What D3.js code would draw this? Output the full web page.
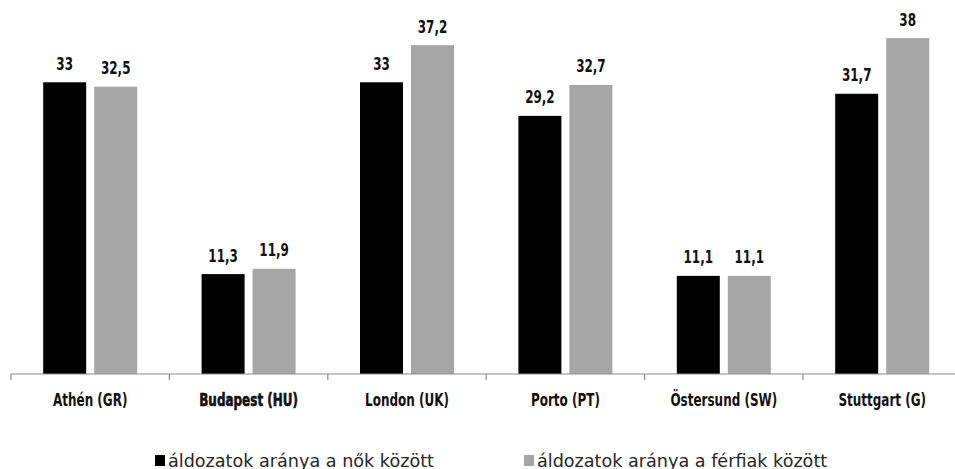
<!DOCTYPE html>
<html><head><meta charset="utf-8">
<script src="https://cdn.jsdelivr.net/npm/d3@7"></script>
<style>body{margin:0;background:#fff}svg{display:block}</style>
</head><body>
<svg id="c" width="955" height="469"></svg>
<script>
const categories = ["Athén (GR)","Budapest (HU)","London (UK)","Porto (PT)","Östersund (SW)","Stuttgart (G)"];
const women = [33, 11.3, 33, 29.2, 11.1, 31.7];
const men = [32.5, 11.9, 37.2, 32.7, 11.1, 38];
const seriesNames = ["áldozatok aránya a nők között","áldozatok aránya a férfiak között"];
const seriesColors = ["#000000","#a6a6a6"];
const highlighted = "Budapest (HU)";

const svg = d3.select("#c");
const W = 955, base = 374, left = 11, step = 158.4;
const x0 = d3.scaleBand().domain(categories).range([left, left + step*categories.length])
  .paddingInner(0.4066).paddingOuter(0.2033);
const x1 = d3.scaleBand().domain([0,1]).range([0, x0.bandwidth()]).paddingInner(0.157).paddingOuter(0);
const y = d3.scaleLinear().domain([0,40]).range([base, base - 40*8.84]);

const labelFont = "'DejaVu Sans Condensed','DejaVu Sans',sans-serif";
const sx = 0.74;
const data = categories.map((c,i)=>({c, v:[women[i], men[i]]}));
const fmt = v => String(v).replace(".", ",");

const g = svg.append("g").selectAll("g").data(data).join("g")
  .attr("transform", d=>`translate(${x0(d.c)},0)`);
g.selectAll("rect").data(d=>d.v.map((v,k)=>({v,k}))).join("rect")
  .attr("x", d=>x1(d.k)).attr("width", x1.bandwidth())
  .attr("y", d=>y(d.v)).attr("height", d=>base - y(d.v))
  .attr("fill", d=>seriesColors[d.k]);
g.selectAll("text").data(d=>d.v.map((v,k)=>({v,k}))).join("text")
  .attr("transform", d=>`translate(${x1(d.k)+x1.bandwidth()/2},${y(d.v)-12.5}) scale(${sx},1)`)
  .attr("text-anchor","middle").attr("font-family",labelFont).attr("font-weight","bold")
  .attr("font-size",18).attr("fill","#111").text(d=>fmt(d.v));

// axis
const ax = svg.append("g").attr("transform",`translate(0,${base})`);
ax.append("line").attr("x1",left).attr("x2",W).attr("stroke","#8c8c8c").attr("stroke-width",1.2);
const bounds = categories.map(c=>x0(c) - x0.step()*x0.paddingInner()/2);
ax.selectAll("line.tk").data(bounds).join("line").attr("class","tk")
  .attr("x1",d=>d).attr("x2",d=>d).attr("y1",0).attr("y2",6).attr("stroke","#8c8c8c").attr("stroke-width",1.2);
ax.selectAll("text.cat").data(categories).join("text").attr("class","cat")
  .attr("transform",d=>`translate(${x0(d)+x0.bandwidth()/2},32) scale(${sx},1)`).attr("text-anchor","middle")
  .attr("font-family",labelFont).attr("font-weight","bold").attr("font-size",18).attr("fill","#111")
  .attr("stroke",d=>d===highlighted?"#111":"none").attr("stroke-width",0.6)
  .text(d=>d);

// legend
const legX = [155, 524];
const lg = svg.append("g").selectAll("g").data(seriesNames).join("g")
  .attr("transform",(d,i)=>`translate(${legX[i]},0)`);
lg.append("rect").attr("x",0).attr("y",455).attr("width",10).attr("height",11).attr("fill",(d,i)=>seriesColors[i]);
lg.append("text").attr("x",13).attr("y",466.5).attr("font-family","'DejaVu Sans', sans-serif")
  .attr("font-size",17.6).attr("fill","#262626").text(d=>d);
</script>
</body></html>
